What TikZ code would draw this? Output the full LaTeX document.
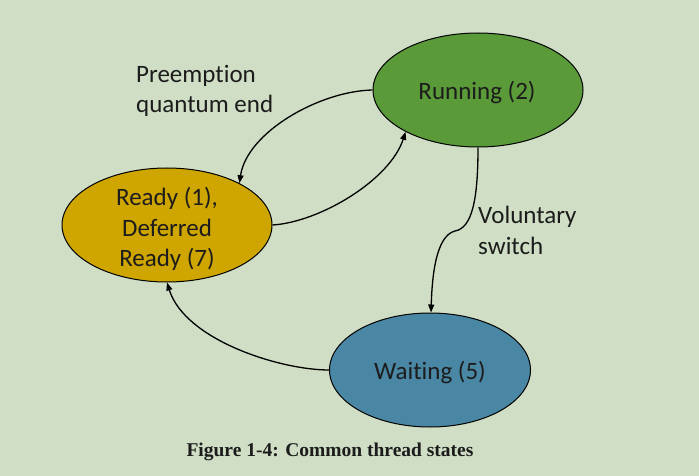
\documentclass[tikz,border=0pt]{standalone}
\usepackage{fontspec}
\setmainfont[Ligatures={NoCommon}]{Carlito}
\newfontfamily\capfont{Liberation Serif}
\usetikzlibrary{shapes.geometric,arrows.meta}
\definecolor{bgc}{HTML}{CFDEC4}
\definecolor{runc}{HTML}{5A9A38}
\definecolor{readyc}{HTML}{CFA500}
\definecolor{waitc}{HTML}{4A87A5}
\definecolor{txtc}{HTML}{1C1C1C}
\tikzset{
  state/.style={ellipse, draw=black, line width=1pt, inner sep=0pt,
    minimum width=210pt, minimum height=114pt},
  stxt/.style={text=txtc, font=\fontsize{25}{30.5}\selectfont, align=center, inner sep=0pt},
  lbl/.style={text=txtc, font=\fontsize{25}{30.5}\selectfont, align=left, inner sep=0pt},
  conn/.style={line width=1.3pt, -{Triangle[length=8pt,width=6pt]}}
}
\begin{document}
\begin{tikzpicture}[x=1pt,y=-1pt]
\fill[bgc] (0,0) rectangle (699,476);
\useasboundingbox (0,0) rectangle (699,476);
\node[state, fill=runc] (run) at (478,90) {};
\node[state, fill=readyc] (ready) at (167,225) {};
\node[state, fill=waitc, minimum width=201pt] (wait) at (430,370) {};
\node[stxt] (runt) at (477,93) {Running (2)};
\node[stxt] (readyt) at (167,229) {Ready (1),\\Deferred\\Ready (7)};
\node[stxt] (waitt) at (430,373) {Waiting (5)};
\node[lbl, anchor=north west] (pre) at (136,65) {Preemption\\quantum end};
\node[lbl, anchor=north west] (vol) at (478,206) {Voluntary\\switch};
\node[font=\capfont\bfseries\fontsize{19.5}{22}\selectfont, text=txtc] (cap) at (330,452) {Figure 1-4: Common thread states};
\draw[conn] (run.west) .. controls (320,91) and (247,132) .. (ready.30);
\draw[conn] (ready.east) .. controls (320,222) and (390,180) .. (run.210);
\draw[conn] (run.south) .. controls (478,200) and (472,228) .. (455,231)
   .. controls (435,236) and (432,280) .. (wait.89);
\draw[conn] (wait.west) .. controls (280,370) and (185,340) .. (ready.south);
\end{tikzpicture}
\end{document}
